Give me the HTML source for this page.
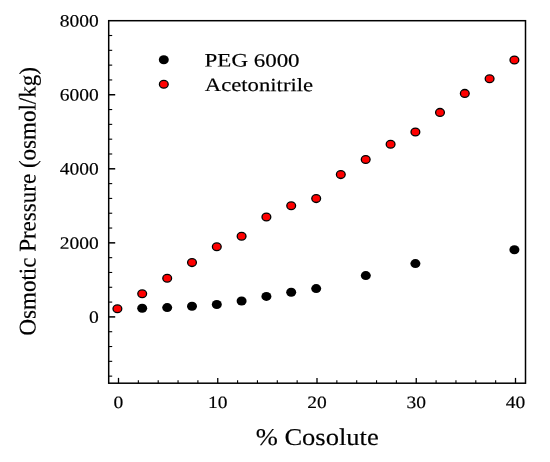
<!DOCTYPE html>
<html><head><meta charset="utf-8"><title>Osmotic Pressure vs % Cosolute</title>
<style>html,body{margin:0;padding:0;background:#fff;}svg{display:block;will-change:transform;}text{font-family:"Liberation Serif",serif;fill:#000;stroke:#000;stroke-width:1.6;}</style></head><body>
<svg width="550" height="462" viewBox="0 0 550 462">
<rect x="0" y="0" width="550" height="462" fill="#ffffff"/>
<rect x="108.7" y="20.7" width="416.8" height="362.5" fill="none" stroke="#000" stroke-width="1.5"/>
<g stroke="#000" fill="none">
<line x1="108.7" y1="376.14" x2="112.2" y2="376.14" stroke-width="1.1"/>
<line x1="108.7" y1="361.33" x2="112.2" y2="361.33" stroke-width="1.1"/>
<line x1="108.7" y1="346.52" x2="112.2" y2="346.52" stroke-width="1.1"/>
<line x1="108.7" y1="331.71" x2="112.2" y2="331.71" stroke-width="1.1"/>
<line x1="108.7" y1="316.90" x2="115.2" y2="316.90" stroke-width="1.5"/>
<line x1="108.7" y1="302.09" x2="112.2" y2="302.09" stroke-width="1.1"/>
<line x1="108.7" y1="287.28" x2="112.2" y2="287.28" stroke-width="1.1"/>
<line x1="108.7" y1="272.47" x2="112.2" y2="272.47" stroke-width="1.1"/>
<line x1="108.7" y1="257.66" x2="112.2" y2="257.66" stroke-width="1.1"/>
<line x1="108.7" y1="242.85" x2="115.2" y2="242.85" stroke-width="1.5"/>
<line x1="108.7" y1="228.04" x2="112.2" y2="228.04" stroke-width="1.1"/>
<line x1="108.7" y1="213.23" x2="112.2" y2="213.23" stroke-width="1.1"/>
<line x1="108.7" y1="198.42" x2="112.2" y2="198.42" stroke-width="1.1"/>
<line x1="108.7" y1="183.61" x2="112.2" y2="183.61" stroke-width="1.1"/>
<line x1="108.7" y1="168.80" x2="115.2" y2="168.80" stroke-width="1.5"/>
<line x1="108.7" y1="153.99" x2="112.2" y2="153.99" stroke-width="1.1"/>
<line x1="108.7" y1="139.18" x2="112.2" y2="139.18" stroke-width="1.1"/>
<line x1="108.7" y1="124.37" x2="112.2" y2="124.37" stroke-width="1.1"/>
<line x1="108.7" y1="109.56" x2="112.2" y2="109.56" stroke-width="1.1"/>
<line x1="108.7" y1="94.75" x2="115.2" y2="94.75" stroke-width="1.5"/>
<line x1="108.7" y1="79.94" x2="112.2" y2="79.94" stroke-width="1.1"/>
<line x1="108.7" y1="65.13" x2="112.2" y2="65.13" stroke-width="1.1"/>
<line x1="108.7" y1="50.32" x2="112.2" y2="50.32" stroke-width="1.1"/>
<line x1="108.7" y1="35.51" x2="112.2" y2="35.51" stroke-width="1.1"/>
<line x1="118.50" y1="383.2" x2="118.50" y2="377.9" stroke-width="1.3"/>
<line x1="138.35" y1="383.2" x2="138.35" y2="380.2" stroke-width="1.1"/>
<line x1="158.20" y1="383.2" x2="158.20" y2="380.2" stroke-width="1.1"/>
<line x1="178.05" y1="383.2" x2="178.05" y2="380.2" stroke-width="1.1"/>
<line x1="197.90" y1="383.2" x2="197.90" y2="380.2" stroke-width="1.1"/>
<line x1="217.75" y1="383.2" x2="217.75" y2="377.9" stroke-width="1.3"/>
<line x1="237.60" y1="383.2" x2="237.60" y2="380.2" stroke-width="1.1"/>
<line x1="257.45" y1="383.2" x2="257.45" y2="380.2" stroke-width="1.1"/>
<line x1="277.30" y1="383.2" x2="277.30" y2="380.2" stroke-width="1.1"/>
<line x1="297.15" y1="383.2" x2="297.15" y2="380.2" stroke-width="1.1"/>
<line x1="317.00" y1="383.2" x2="317.00" y2="377.9" stroke-width="1.3"/>
<line x1="336.85" y1="383.2" x2="336.85" y2="380.2" stroke-width="1.1"/>
<line x1="356.70" y1="383.2" x2="356.70" y2="380.2" stroke-width="1.1"/>
<line x1="376.55" y1="383.2" x2="376.55" y2="380.2" stroke-width="1.1"/>
<line x1="396.40" y1="383.2" x2="396.40" y2="380.2" stroke-width="1.1"/>
<line x1="416.25" y1="383.2" x2="416.25" y2="377.9" stroke-width="1.3"/>
<line x1="436.10" y1="383.2" x2="436.10" y2="380.2" stroke-width="1.1"/>
<line x1="455.95" y1="383.2" x2="455.95" y2="380.2" stroke-width="1.1"/>
<line x1="475.80" y1="383.2" x2="475.80" y2="380.2" stroke-width="1.1"/>
<line x1="495.65" y1="383.2" x2="495.65" y2="380.2" stroke-width="1.1"/>
<line x1="515.50" y1="383.2" x2="515.50" y2="377.9" stroke-width="1.3"/>
</g>
<text transform="translate(88.95,322.70) rotate(0.03) scale(0.1)" font-size="173" textLength="98" lengthAdjust="spacingAndGlyphs">0</text>
<text transform="translate(59.70,248.65) rotate(0.03) scale(0.1)" font-size="173" textLength="390" lengthAdjust="spacingAndGlyphs">2000</text>
<text transform="translate(59.70,174.60) rotate(0.03) scale(0.1)" font-size="173" textLength="390" lengthAdjust="spacingAndGlyphs">4000</text>
<text transform="translate(59.70,100.55) rotate(0.03) scale(0.1)" font-size="173" textLength="390" lengthAdjust="spacingAndGlyphs">6000</text>
<text transform="translate(59.70,26.50) rotate(0.03) scale(0.1)" font-size="173" textLength="390" lengthAdjust="spacingAndGlyphs">8000</text>
<text transform="translate(113.62,408.10) rotate(0.03) scale(0.1)" font-size="173" textLength="98" lengthAdjust="spacingAndGlyphs">0</text>
<text transform="translate(208.00,408.10) rotate(0.03) scale(0.1)" font-size="173" textLength="195" lengthAdjust="spacingAndGlyphs">10</text>
<text transform="translate(307.25,408.10) rotate(0.03) scale(0.1)" font-size="173" textLength="195" lengthAdjust="spacingAndGlyphs">20</text>
<text transform="translate(406.50,408.10) rotate(0.03) scale(0.1)" font-size="173" textLength="195" lengthAdjust="spacingAndGlyphs">30</text>
<text transform="translate(505.75,408.10) rotate(0.03) scale(0.1)" font-size="173" textLength="195" lengthAdjust="spacingAndGlyphs">40</text>
<text transform="translate(255.70,445.00) rotate(0.03) scale(0.1)" font-size="240" textLength="1230" lengthAdjust="spacingAndGlyphs">% Cosolute</text>
<text transform="translate(35.50,335.60) rotate(-89.97) scale(0.1)" font-size="240" textLength="2685" lengthAdjust="spacingAndGlyphs">Osmotic Pressure (osmol/kg)</text>
<text transform="translate(204.60,66.60) rotate(0.03) scale(0.1)" font-size="190" textLength="950" lengthAdjust="spacingAndGlyphs">PEG 6000</text>
<text transform="translate(204.80,91.10) rotate(0.03) scale(0.1)" font-size="190" textLength="1083" lengthAdjust="spacingAndGlyphs">Acetonitrile</text>
<ellipse cx="163.8" cy="59.7" rx="5.0" ry="4.5" fill="#000"/>
<ellipse cx="163.8" cy="84.3" rx="4.4" ry="3.9" fill="#ff0000" stroke="#000" stroke-width="1.3"/>
<ellipse cx="142.2" cy="308.2" rx="5.0" ry="4.5" fill="#000"/>
<ellipse cx="167.2" cy="307.6" rx="5.0" ry="4.5" fill="#000"/>
<ellipse cx="192.0" cy="306.2" rx="5.0" ry="4.5" fill="#000"/>
<ellipse cx="216.8" cy="304.5" rx="5.0" ry="4.5" fill="#000"/>
<ellipse cx="241.6" cy="301.0" rx="5.0" ry="4.5" fill="#000"/>
<ellipse cx="266.4" cy="296.4" rx="5.0" ry="4.5" fill="#000"/>
<ellipse cx="291.2" cy="292.2" rx="5.0" ry="4.5" fill="#000"/>
<ellipse cx="316.2" cy="288.6" rx="5.0" ry="4.5" fill="#000"/>
<ellipse cx="365.8" cy="275.6" rx="5.0" ry="4.5" fill="#000"/>
<ellipse cx="415.4" cy="263.6" rx="5.0" ry="4.5" fill="#000"/>
<ellipse cx="514.4" cy="249.8" rx="5.0" ry="4.5" fill="#000"/>
<ellipse cx="117.4" cy="308.8" rx="4.4" ry="3.9" fill="#ff0000" stroke="#000" stroke-width="1.3"/>
<ellipse cx="142.2" cy="293.8" rx="4.4" ry="3.9" fill="#ff0000" stroke="#000" stroke-width="1.3"/>
<ellipse cx="167.2" cy="278.2" rx="4.4" ry="3.9" fill="#ff0000" stroke="#000" stroke-width="1.3"/>
<ellipse cx="192.0" cy="262.6" rx="4.4" ry="3.9" fill="#ff0000" stroke="#000" stroke-width="1.3"/>
<ellipse cx="216.8" cy="246.8" rx="4.4" ry="3.9" fill="#ff0000" stroke="#000" stroke-width="1.3"/>
<ellipse cx="241.6" cy="236.2" rx="4.4" ry="3.9" fill="#ff0000" stroke="#000" stroke-width="1.3"/>
<ellipse cx="266.4" cy="217.0" rx="4.4" ry="3.9" fill="#ff0000" stroke="#000" stroke-width="1.3"/>
<ellipse cx="291.2" cy="205.8" rx="4.4" ry="3.9" fill="#ff0000" stroke="#000" stroke-width="1.3"/>
<ellipse cx="316.2" cy="198.6" rx="4.4" ry="3.9" fill="#ff0000" stroke="#000" stroke-width="1.3"/>
<ellipse cx="340.8" cy="174.6" rx="4.4" ry="3.9" fill="#ff0000" stroke="#000" stroke-width="1.3"/>
<ellipse cx="365.7" cy="159.5" rx="4.4" ry="3.9" fill="#ff0000" stroke="#000" stroke-width="1.3"/>
<ellipse cx="390.6" cy="144.2" rx="4.4" ry="3.9" fill="#ff0000" stroke="#000" stroke-width="1.3"/>
<ellipse cx="415.4" cy="132.0" rx="4.4" ry="3.9" fill="#ff0000" stroke="#000" stroke-width="1.3"/>
<ellipse cx="440.0" cy="112.4" rx="4.4" ry="3.9" fill="#ff0000" stroke="#000" stroke-width="1.3"/>
<ellipse cx="464.8" cy="93.4" rx="4.4" ry="3.9" fill="#ff0000" stroke="#000" stroke-width="1.3"/>
<ellipse cx="489.6" cy="78.8" rx="4.4" ry="3.9" fill="#ff0000" stroke="#000" stroke-width="1.3"/>
<ellipse cx="514.4" cy="60.0" rx="4.4" ry="3.9" fill="#ff0000" stroke="#000" stroke-width="1.3"/>
</svg></body></html>
